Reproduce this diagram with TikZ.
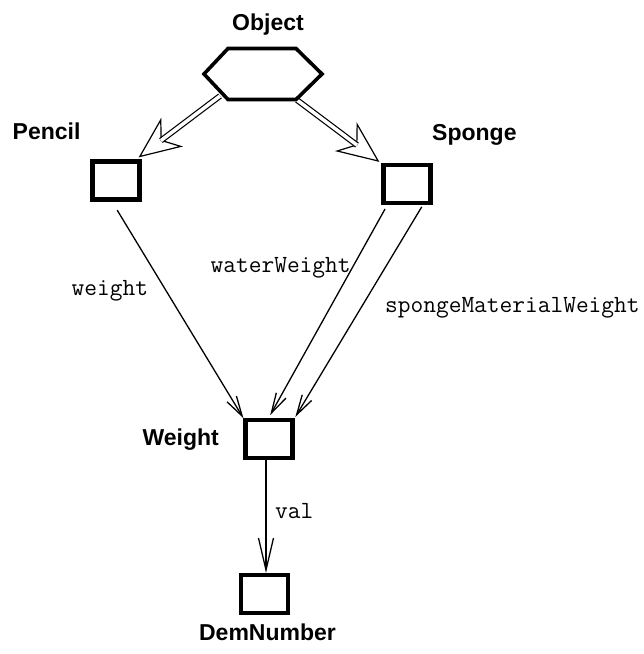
\documentclass[tikz,border=0pt]{standalone}
\usepackage{fontspec}
\setmainfont{Liberation Sans}
\usetikzlibrary{arrows.meta,calc}
\pgfdeclarelayer{bg}
\pgfsetlayers{bg,main}
\begin{document}
\begin{tikzpicture}[x=1pt,y=-1pt,
  box/.style={draw, line width=4.2pt, minimum width=47pt, minimum height=38pt, inner sep=0pt},
  lbl/.style={font=\fontsize{23}{27}\selectfont\bfseries, inner sep=0pt},
  code/.style={font=\fontsize{24.7}{28}\selectfont\ttfamily, inner sep=0pt},
  link/.style={line width=1.3pt, -{Straight Barb[length=20pt,width=11pt]}},
  vallink/.style={line width=1.3pt, -{Straight Barb[length=32pt,width=15pt]}},
  isahead/.style={white, line width=1.2pt, -{Stealth[open, color=black, length=42pt, width=36pt, inset=13pt]}},
  isashaft/.style={line width=1.2pt, double distance=3.5pt, shorten >=28pt}]
\useasboundingbox (0,0) rectangle (644,654);

% nodes
\node[box] (pencil) at (116,180.5) {};
\node[box] (sponge) at (407,184) {};
\node[box] (weight) at (269,439.25) {};
\node[box] (dem) at (264.3,594) {};
\node[minimum width=118pt, minimum height=51pt, inner sep=0pt, outer sep=0pt] (obj) at (263,74) {};
\draw[line width=3.6pt, line join=miter]
  (obj.west) -- ([xshift=24pt]obj.north west) -- ([xshift=-26pt]obj.north east)
  -- (obj.east) -- ([xshift=-26pt]obj.south east) -- ([xshift=24pt]obj.south west) -- cycle;

% labels
\node[lbl, anchor=base] (tObj) at (268,30) {Object};
\node[lbl, anchor=base west] (tPencil) at (12.5,139) {Pencil};
\node[lbl, anchor=base west] (tSponge) at (432,140) {Sponge};
\node[lbl, anchor=base east] (tWeight) at (219,445) {Weight};
\node[lbl, anchor=base] (tDem) at (267.5,640) {DemNumber};

\node[code, anchor=base west] (lWeight) at (71.5,295) {weight};
\node[code, anchor=base west] (lWater) at (210.5,272) {waterWeight};
\node[code, anchor=base west] (lSponge) at (385,312) {spongeMaterialWeight};
\node[code, anchor=base west] (lVal) at (275,518) {val};

% connectors
\coordinate (objA) at ([shift={(16,-3.5)}]obj.south west);
\coordinate (objB) at ([shift={(-25,0.5)}]obj.south east);
\begin{pgfonlayer}{bg}
\draw[isahead] (objA) -- ([shift={(-3,-2)}]pencil.north east);
\draw[isashaft] (objA) -- ([shift={(-3,-2)}]pencil.north east);
\draw[isahead] (objB) -- ([shift={(-2,-1)}]sponge.north west);
\draw[isashaft] (objB) -- ([shift={(-2,-1)}]sponge.north west);

\draw[link, shorten <=10pt] ([xshift=-4pt]pencil.south) -- (weight.north west);
\draw[link, shorten <=4.5pt, shorten >=3.5pt] ([xshift=5.8pt]sponge.south west) -- ([xshift=-0.5pt]weight.north);
\draw[link, shorten <=2pt, shorten >=1.5pt] ([xshift=-9.8pt]sponge.south east) -- (weight.north east);
\draw[vallink] ([xshift=-3pt]weight.south) -- ([xshift=-3pt]weight.south |- dem.north);
\end{pgfonlayer}
\end{tikzpicture}
\end{document}
